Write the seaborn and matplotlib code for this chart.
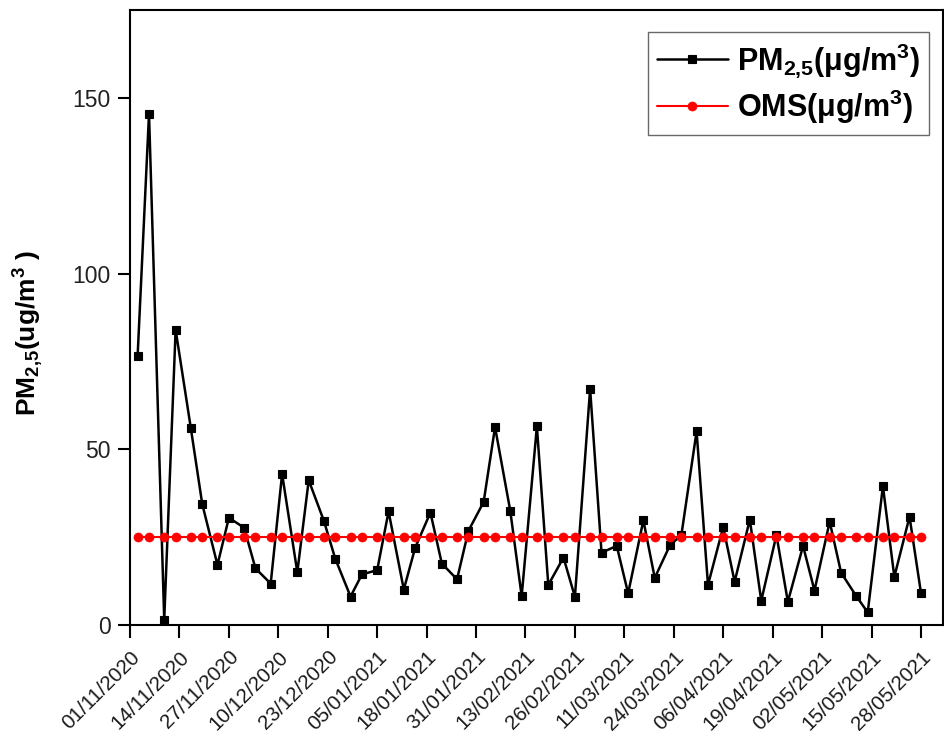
import matplotlib
matplotlib.use("Agg")
import matplotlib.pyplot as plt
import seaborn as sns
import pandas as pd
import numpy as np

# ---- data ----
dates = [
    "2020-11-03", "2020-11-06", "2020-11-10", "2020-11-13", "2020-11-17", "2020-11-20",
    "2020-11-24", "2020-11-27", "2020-12-01", "2020-12-04", "2020-12-08", "2020-12-11",
    "2020-12-15", "2020-12-18", "2020-12-22", "2020-12-25", "2020-12-29", "2021-01-01",
    "2021-01-05", "2021-01-08", "2021-01-12", "2021-01-15", "2021-01-19", "2021-01-22",
    "2021-01-26", "2021-01-29", "2021-02-02", "2021-02-05", "2021-02-09", "2021-02-12",
    "2021-02-16", "2021-02-19", "2021-02-23", "2021-02-26", "2021-03-02", "2021-03-05",
    "2021-03-09", "2021-03-12", "2021-03-16", "2021-03-19", "2021-03-23", "2021-03-26",
    "2021-03-30", "2021-04-02", "2021-04-06", "2021-04-09", "2021-04-13", "2021-04-16",
    "2021-04-20", "2021-04-23", "2021-04-27", "2021-04-30", "2021-05-04", "2021-05-07",
    "2021-05-11", "2021-05-14", "2021-05-18", "2021-05-21", "2021-05-25", "2021-05-28",
]
pm25 = [
    76.5, 145.5, 1.5, 84.0, 56.0, 34.4, 17.1, 30.5, 27.7, 16.1,
    11.8, 43.0, 15.0, 41.2, 29.6, 18.8, 8.1, 14.4, 15.6, 32.3,
    10.1, 22.0, 32.0, 17.5, 13.0, 26.8, 35.0, 56.3, 32.5, 8.2,
    56.5, 11.4, 19.2, 8.0, 67.2, 20.6, 22.5, 9.0, 29.8, 13.4,
    22.7, 25.6, 55.1, 11.4, 27.9, 12.3, 30.0, 6.9, 25.6, 6.6,
    22.5, 9.8, 29.4, 14.9, 8.2, 3.6, 39.5, 13.7, 30.8, 9.2,
]
oms = [25.0] * len(dates)

tick_dates = [
    "2020-11-01", "2020-11-14", "2020-11-27", "2020-12-10", "2020-12-23",
    "2021-01-05", "2021-01-18", "2021-01-31", "2021-02-13", "2021-02-26",
    "2021-03-11", "2021-03-24", "2021-04-06", "2021-04-19", "2021-05-02",
    "2021-05-15", "2021-05-28",
]
tick_labels = [
    "01/11/2020", "14/11/2020", "27/11/2020", "10/12/2020", "23/12/2020",
    "05/01/2021", "18/01/2021", "31/01/2021", "13/02/2021", "26/02/2021",
    "11/03/2021", "24/03/2021", "06/04/2021", "19/04/2021", "02/05/2021",
    "15/05/2021", "28/05/2021",
]
y_ticks = [0, 50, 100, 150]

df = pd.DataFrame({"date": pd.to_datetime(dates), "pm": pm25, "oms": oms})

# ---- style ----
sns.set_style("ticks")
plt.rcParams["font.family"] = ["Liberation Sans", "DejaVu Sans"]
plt.rcParams["text.color"] = "black"
plt.rcParams["mathtext.fontset"] = "custom"
plt.rcParams["mathtext.rm"] = "Liberation Sans:bold"
plt.rcParams["mathtext.it"] = "Liberation Sans:bold"
plt.rcParams["mathtext.bf"] = "Liberation Sans:bold"
plt.rcParams["mathtext.default"] = "rm"

fig = plt.figure(figsize=(9.44, 7.38), dpi=100)
ax = fig.add_axes([130 / 944, 113 / 738, (943 - 130) / 944, (625 - 10) / 738])

sns.lineplot(data=df, x="date", y="pm", ax=ax, color="black", linewidth=1.8,
             marker="s", markersize=5.5, markeredgecolor="black", markeredgewidth=0.8,
             label=r"PM$_{2{,}5}$(μg/m$^{3}$)")
sns.lineplot(data=df, x="date", y="oms", ax=ax, color="#ff0000", linewidth=1.5,
             marker="o", markersize=6.5, markeredgecolor="#ff0000", markeredgewidth=0.5,
             label=r"OMS(μg/m$^{3}$)")

start = pd.Timestamp("2020-11-01")
ax.set_xlim(start, start + pd.Timedelta(days=213.8))
ax.set_ylim(0, 175)

ax.set_xticks(pd.to_datetime(tick_dates))
ax.set_xticklabels(tick_labels, rotation=45, ha="right", rotation_mode="anchor",
                   fontsize=14.8, color="#1a1a1a")
ax.set_yticks(y_ticks)
ax.set_yticklabels([str(v) for v in y_ticks], fontsize=16.5, color="#222222")
ax.tick_params(axis="both", direction="out", length=9, width=1.5, color="black")
ax.tick_params(axis="x", pad=7)
ax.tick_params(axis="y", pad=5)

for s in ax.spines.values():
    s.set_visible(True)
    s.set_linewidth(1.5)
    s.set_color("black")

ax.set_xlabel("")
ax.set_ylabel(r"PM$_{2{,}5}$(ug/m$^{3}$ )", fontsize=19, fontweight="bold", color="black")
ax.yaxis.set_label_coords(-0.103, 0.475)

leg = ax.legend(loc="upper right", bbox_to_anchor=(0.983, 0.964), borderaxespad=0,
                fontsize=22, frameon=True, fancybox=False, handlelength=2.3,
                handletextpad=0.3, borderpad=0.3, labelspacing=0.25)
leg.get_frame().set_edgecolor("#444444")
leg.get_frame().set_linewidth(1.0)
for t in leg.get_texts():
    t.set_fontweight("bold")
    t.set_color("black")

fig.savefig("out.png", dpi=100)
